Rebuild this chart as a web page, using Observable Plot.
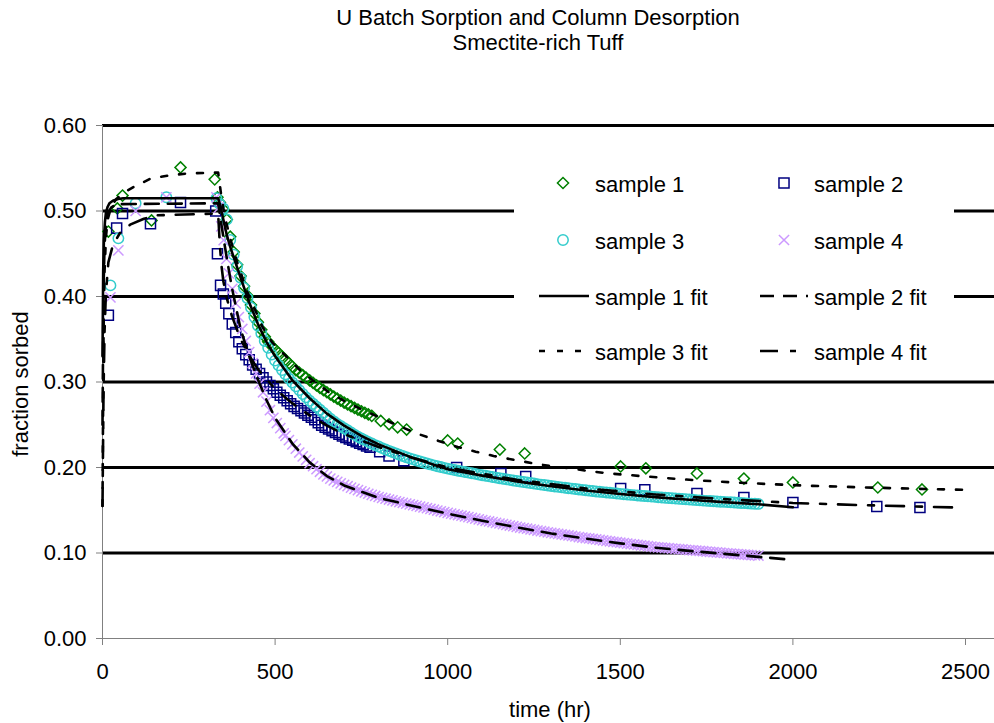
<!DOCTYPE html>
<html>
<head>
<meta charset="utf-8">
<script src="https://cdn.jsdelivr.net/npm/d3@7"></script>
<script src="https://cdn.jsdelivr.net/npm/@observablehq/plot@0.6"></script>
<style>
  html, body { margin: 0; padding: 0; background: #fff; overflow: hidden; }
  #wrap { position: relative; width: 994px; height: 723px; font-family: Arial, "Liberation Sans", sans-serif; color: #000; }
  #wrap svg { position: absolute; left: 0; top: 0; }
  .txt { position: absolute; font-size: 22px; line-height: 25px; white-space: nowrap; }
  .ctr { text-align: center; }
</style>
</head>
<body>
<div id="wrap"></div>
<script>
// ---------------- data (time in hr, fraction sorbed) ----------------
const titleLines = ["U Batch Sorption and Column Desorption", "Smectite-rich Tuff"];
const xLabel = "time (hr)";
const yLabel = "fraction sorbed";
const xTicks = [0, 500, 1000, 1500, 2000, 2500];
const yTicks = [0, 0.1, 0.2, 0.3, 0.4, 0.5, 0.6];
const gridValues = [0.1, 0.2, 0.3, 0.4, 0.5, 0.6];

const seriesNames = ["sample 1", "sample 2", "sample 3", "sample 4"];
const fitNames = ["sample 1 fit", "sample 2 fit", "sample 3 fit", "sample 4 fit"];

// sample 1 (green diamonds)
const sample1 = [
  [17,0.476],[43,0.503],[58,0.518],[142,0.489],[226,0.551],[325,0.537],[333,0.516],
  [340,0.510],[350,0.502],[360,0.490],[370,0.470],[380,0.452],[390,0.437],[400,0.424],
  [410,0.412],[420,0.401],[430,0.390],[440,0.380],[450,0.370],[460,0.361],[470,0.353],
  [480,0.347],[490,0.342],[500,0.338],[510,0.334],[520,0.330],[530,0.326],[540,0.322],
  [550,0.318],[560,0.314],[570,0.311],[580,0.308],[590,0.305],[600,0.302],[610,0.299],
  [620,0.296],[630,0.293],[640,0.2905],[650,0.288],[660,0.2855],[670,0.283],[680,0.2806],
  [690,0.2783],[700,0.276],[710,0.2738],[720,0.2717],[730,0.2697],[740,0.2677],[750,0.2658],
  [760,0.2640],[770,0.2622],[780,0.2604],
  [806,0.2545],[830,0.2505],[855,0.2470],[881,0.2444],[1000,0.2316],[1029,0.228],
  [1151,0.221],[1223,0.2164],[1501,0.2012],[1574,0.199],[1722,0.193],[1858,0.187],
  [2000,0.1825],[2246,0.1766],[2374,0.1743]
];

// sample 2 (navy squares)
const sample2 = [
  [17,0.378],[41,0.48],[58,0.497],[139,0.485],[226,0.51],[328,0.5],
  [333,0.45],[342,0.413],[350,0.403],[357,0.392],[366,0.38],[376,0.368],[386,0.358],
  [395,0.347],[405,0.339],[415,0.332],[425,0.326],[435,0.32],[445,0.315],[455,0.31],
  [465,0.305],[475,0.3],[485,0.296],[495,0.292],[505,0.288],[515,0.2845],[525,0.2815],
  [535,0.278],[545,0.2745],[555,0.2715],[565,0.269],[575,0.2663],[585,0.2637],[595,0.261],
  [605,0.2587],[615,0.2558],[625,0.2525],[635,0.2495],[645,0.247],[655,0.245],[665,0.243],
  [675,0.241],[685,0.239],[695,0.237],[705,0.235],[715,0.2335],[725,0.2318],[735,0.2302],
  [745,0.2285],[755,0.2268],[765,0.2252],[775,0.2237],
  [803,0.2185],[830,0.2135],[873,0.208],[1026,0.2],[1154,0.193],[1226,0.1895],
  [1501,0.1754],[1571,0.174],[1722,0.1696],[1858,0.165],[2000,0.159],[2243,0.1544],
  [2368,0.1532]
];

// sample 3 (cyan circles)
const sample3 = [
  [23,0.413],[46,0.468],[96,0.509],[185,0.516],[330,0.515],
  [340,0.508],[350,0.503],[360,0.490],[370,0.466],[380,0.449],[390,0.435],[400,0.422],
  [410,0.410],[420,0.398],[430,0.387],[440,0.376],[450,0.366],[460,0.357],[470,0.348],
  [480,0.340],[490,0.332],[500,0.325],[510,0.3195],[520,0.314],[530,0.309],[540,0.304],
  [550,0.2995],[560,0.295],[570,0.2905],[580,0.286],[590,0.282],[600,0.278],[610,0.2745],
  [620,0.271],[630,0.2675],[640,0.264],[650,0.2605],[660,0.257],[670,0.254],[680,0.251],
  [690,0.2485],[700,0.246],[710,0.2435],[720,0.241],[730,0.2385],[740,0.236],[750,0.234],
  [760,0.232],[770,0.230],[780,0.228],[790,0.2262],[800,0.2245],[810,0.2227],[820,0.221],
  [830,0.2195],[840,0.218],[850,0.2165],[860,0.215],[870,0.2135],[880,0.212],[890,0.2107],
  [900,0.2095],[910,0.2082],[920,0.207],[930,0.2058],[940,0.2047],[950,0.2036],[960,0.2025],
  [970,0.2015],[980,0.2005],[990,0.1996],[1000,0.1987],[1010,0.1978],[1020,0.197],
  [1030,0.1962],[1040,0.1955],[1050,0.1947],[1060,0.194],[1070,0.1932],[1080,0.1925],
  [1090,0.1917],[1100,0.191],[1110,0.1903],[1120,0.1896],[1130,0.1889],[1140,0.1882],
  [1150,0.1875],[1160,0.1868],[1170,0.1861],[1180,0.1855],[1190,0.1848],[1200,0.1842],
  [1210,0.1836],[1220,0.183],[1230,0.1824],[1240,0.1818],[1250,0.1812],[1260,0.1806],
  [1270,0.18],[1280,0.1795],[1290,0.1789],[1300,0.1784],[1310,0.1778],[1320,0.1773],
  [1330,0.1768],[1340,0.1763],[1350,0.1758],[1360,0.1753],[1370,0.1748],[1380,0.1743],
  [1390,0.1738],[1400,0.1734],[1410,0.1729],[1420,0.1725],[1430,0.172],[1440,0.1716],
  [1450,0.1712],[1460,0.1708],[1470,0.1704],[1480,0.17],[1490,0.1696],[1500,0.1692],
  [1510,0.1688],[1520,0.1684],[1530,0.168],[1540,0.1677],[1550,0.1673],[1560,0.167],
  [1570,0.1666],[1580,0.1663],[1590,0.1659],[1600,0.1656],[1610,0.1652],[1620,0.1649],
  [1630,0.1646],[1640,0.1643],[1650,0.164],[1660,0.1637],[1670,0.1634],[1680,0.1631],
  [1690,0.1628],[1700,0.1625],[1710,0.1622],[1720,0.1619],[1730,0.1616],[1740,0.1613],
  [1750,0.161],[1760,0.1608],[1770,0.1605],[1780,0.1603],[1790,0.16],[1800,0.1598],
  [1810,0.1595],[1820,0.1593],[1830,0.159],[1840,0.1588],[1850,0.1585],[1860,0.1583],
  [1870,0.158],[1880,0.1578],[1890,0.1576],[1900,0.1574]
];

// sample 4 (lavender crosses)
const sample4 = [
  [23,0.399],[46,0.454],[96,0.5],[185,0.516],[330,0.516],
  [337,0.504],[344,0.482],[351,0.466],[359,0.444],[366,0.427],[376,0.409],[386,0.392],
  [395,0.376],[405,0.362],[415,0.348],[425,0.335],[435,0.322],[445,0.31],[455,0.298],
  [465,0.288],[475,0.277],[485,0.267],[495,0.258],[505,0.252],[515,0.246],[525,0.24],
  [530,0.237],[540,0.232],[550,0.227],[560,0.222],[570,0.2175],[580,0.213],[590,0.209],
  [600,0.205],[610,0.2015],[620,0.198],[630,0.195],[640,0.192],[650,0.1895],[660,0.187],
  [670,0.185],[680,0.1832],[690,0.1814],[700,0.1797],[710,0.1781],[720,0.1765],[730,0.175],
  [740,0.1735],[750,0.1721],[760,0.1707],[770,0.1693],[780,0.168],[790,0.1667],[800,0.1655],
  [810,0.1645],[820,0.1635],[830,0.1625],[840,0.1615],[850,0.1605],[860,0.1596],[870,0.1587],
  [880,0.1578],[890,0.1569],[900,0.156],[910,0.1551],[920,0.1542],[930,0.1533],[940,0.1524],
  [950,0.1515],[960,0.1506],[970,0.1497],[980,0.1488],[990,0.1479],[1000,0.147],
  [1010,0.1461],[1020,0.1453],[1030,0.1444],[1040,0.1436],[1050,0.1427],[1060,0.1419],
  [1070,0.141],[1080,0.1402],[1090,0.1393],[1100,0.1385],[1110,0.1377],[1120,0.1369],
  [1130,0.1361],[1140,0.1353],[1150,0.1345],[1160,0.1337],[1170,0.1329],[1180,0.1321],
  [1190,0.1313],[1200,0.1305],[1210,0.1298],[1220,0.1291],[1230,0.1284],[1240,0.1277],
  [1250,0.127],[1260,0.1263],[1270,0.1256],[1280,0.1249],[1290,0.1242],[1300,0.1235],
  [1310,0.1229],[1320,0.1223],[1330,0.1217],[1340,0.1211],[1350,0.1205],[1360,0.1199],
  [1370,0.1193],[1380,0.1187],[1390,0.1181],[1400,0.1175],[1410,0.117],[1420,0.1164],
  [1430,0.1159],[1440,0.1153],[1450,0.1148],[1460,0.1142],[1470,0.1137],[1480,0.1131],
  [1490,0.1126],[1500,0.112],[1510,0.1115],[1520,0.111],[1530,0.1105],[1540,0.11],
  [1550,0.1095],[1560,0.109],[1570,0.1085],[1580,0.108],[1590,0.1075],[1600,0.107],
  [1610,0.1066],[1620,0.1063],[1630,0.1059],[1640,0.1056],[1650,0.1052],[1660,0.1049],
  [1670,0.1045],[1680,0.1042],[1690,0.1038],[1700,0.1035],[1710,0.1031],[1720,0.1028],
  [1730,0.1024],[1740,0.1021],[1750,0.1017],[1760,0.1014],[1770,0.101],[1780,0.1007],
  [1790,0.1003],[1800,0.1],[1810,0.0997],[1820,0.0994],[1830,0.0991],[1840,0.0988],
  [1850,0.0985],[1860,0.0982],[1870,0.0979],[1880,0.0976],[1890,0.0973],[1900,0.097]
];

// fit curves as drawn (solid, long dash, short dash, dash-dot)
const fit1 = [
  [0,0.33],[2,0.43],[4,0.465],[7,0.487],[10,0.498],[15,0.505],[20,0.509],[30,0.512],
  [45,0.514],[60,0.515],[335,0.515],[342,0.505],[350,0.49],[360,0.472],[370,0.458],
  [380,0.446],[400,0.422],[425,0.393],[450,0.368],[475,0.347],[500,0.33],[550,0.302],
  [600,0.281],[650,0.263],[700,0.249],[750,0.237],[800,0.227],[900,0.211],[1000,0.198],
  [1100,0.1905],[1200,0.1838],[1300,0.178],[1400,0.1731],[1500,0.169],[1600,0.1654],
  [1700,0.1622],[1800,0.1595],[1900,0.157],[2000,0.1535]
];
const fit2 = [
  [0,0.25],[3,0.41],[6,0.46],[10,0.485],[15,0.497],[25,0.504],[40,0.508],[335,0.509],
  [342,0.49],[350,0.47],[360,0.445],[375,0.41],[400,0.362],[425,0.33],[450,0.303],
  [475,0.279],[500,0.258],[550,0.228],[600,0.206],[650,0.19],[700,0.179],[800,0.1645],
  [900,0.155],[1000,0.146],[1100,0.1378],[1200,0.13],[1300,0.1228],[1400,0.1168],
  [1500,0.1113],[1600,0.1063],[1700,0.1025],[1800,0.099],[1900,0.0955],[2000,0.092]
];
const fit3 = [
  [0,0.155],[3,0.36],[6,0.43],[10,0.47],[15,0.49],[25,0.505],[40,0.514],[60,0.521],
  [90,0.528],[140,0.538],[200,0.542],[250,0.544],[335,0.545],[345,0.515],[355,0.492],
  [370,0.468],[390,0.44],[420,0.405],[464,0.364],[492,0.346],[530,0.331],[574,0.313],
  [617,0.2995],[661,0.2865],[700,0.278],[750,0.268],[800,0.259],[850,0.25],[916,0.239],
  [974,0.231],[1029,0.224],[1081,0.2185],[1133,0.2135],[1191,0.209],[1246,0.205],
  [1299,0.2015],[1357,0.199],[1409,0.1958],[1463,0.1932],[1516,0.1915],[1568,0.1897],
  [1623,0.188],[1675,0.1863],[1733,0.1848],[1786,0.1835],[1841,0.1823],[1899,0.1812],
  [2058,0.1785],[2200,0.1768],[2350,0.1752],[2490,0.174]
];
const fit4 = [
  [0,0.155],[3,0.29],[6,0.36],[10,0.405],[17,0.44],[30,0.46],[50,0.474],[80,0.484],
  [120,0.491],[160,0.495],[335,0.497],[340,0.46],[345,0.435],[350,0.418],[360,0.398],
  [375,0.377],[400,0.35],[425,0.331],[450,0.315],[500,0.292],[550,0.275],[600,0.261],
  [650,0.249],[700,0.239],[800,0.224],[900,0.211],[1000,0.2],[1200,0.1855],[1400,0.1755],
  [1600,0.1685],[1800,0.163],[2000,0.1585],[2200,0.156],[2350,0.1545],[2490,0.153]
];

// ---------------- styles ----------------
const colors = ["#008000", "#000080", "#33CCCC", "#CC99FF"];
const symbols = ["diamond2", "square2", "circle", "times"];
const d3Symbols = [d3.symbolDiamond2, d3.symbolSquare2, d3.symbolCircle, d3.symbolTimes];
const radii = [5, 6.4, 5.2, 4.7];
const dashes = [null, "14,9", "6,12", "18,12,6,12"];
const fitWidth = 2.6;

const samples = [sample1, sample2, sample3, sample4];
const fits = [fit1, fit2, fit3, fit4];

const X = d => d[0], Y = d => d[1];

const marks = [
  Plot.ruleY(gridValues, {stroke: "#000", strokeWidth: 3}),
  Plot.ruleX([0], {stroke: "#808080", strokeWidth: 1}),
  Plot.ruleY([0], {stroke: "#808080", strokeWidth: 1}),
  Plot.axisY({ticks: yTicks, tickFormat: d3.format(".2f"), tickSize: 6, tickPadding: 10,
              label: null, stroke: "#808080", fill: "#000"}),
  Plot.axisX({ticks: xTicks, tickFormat: d3.format("d"), tickSize: 7, tickPadding: 18,
              label: null, stroke: "#808080", fill: "#000"})
];
samples.forEach((s, i) => {
  marks.push(Plot.dot(s, {x: X, y: Y, symbol: symbols[i], r: radii[i], fill: "none",
                          stroke: colors[i], strokeWidth: 1.5}));
});
fits.forEach((f, i) => {
  const opt = {x: X, y: Y, stroke: "#000", strokeWidth: fitWidth};
  if (dashes[i]) opt.strokeDasharray = dashes[i];
  marks.push(Plot.line(f, opt));
});

const chart = Plot.plot({
  width: 994,
  height: 723,
  marginLeft: 102,
  marginRight: 0,
  marginTop: 125,
  marginBottom: 85,
  x: {domain: [0, 2584]},
  y: {domain: [0, 0.6]},
  style: {fontFamily: "Arial, 'Liberation Sans', sans-serif", fontSize: "22px", color: "#000", background: "#fff"},
  marks
});

const wrap = document.getElementById("wrap");
wrap.appendChild(chart);

function addText(text, styles, cls = "txt") {
  const el = document.createElement("div");
  el.className = cls;
  el.textContent = text;
  Object.assign(el.style, styles);
  wrap.appendChild(el);
  return el;
}

// titles and axis labels
addText(titleLines[0], {left: "238px", width: "600px", top: "5px"}, "txt ctr");
addText(titleLines[1], {left: "238px", width: "600px", top: "30px"}, "txt ctr");
addText(xLabel, {left: "350px", width: "400px", top: "697px"}, "txt ctr");
addText(yLabel, {left: "20px", top: "384px", transform: "translate(-50%,-50%) rotate(-90deg)"});

// legend (white box over the gridlines)
const box = document.createElement("div");
Object.assign(box.style, {position: "absolute", left: "514px", top: "156px", width: "440px", height: "220px", background: "#fff"});
wrap.appendChild(box);

const rowY = [183, 240, 296, 351];
const colSym = [563, 784];
const colLine = [[539, 589], [760, 808]];
const colText = [595, 814];
const NS = "http://www.w3.org/2000/svg";

function legendSvg(left, top, w, h) {
  const s = document.createElementNS(NS, "svg");
  s.setAttribute("width", w); s.setAttribute("height", h);
  Object.assign(s.style, {position: "absolute", left: left + "px", top: top + "px", overflow: "visible"});
  wrap.appendChild(s);
  return s;
}

seriesNames.forEach((name, i) => {
  const row = Math.floor(i / 2), col = i % 2;
  const cy = rowY[row], cx = colSym[col];
  const s = legendSvg(cx - 10, cy - 10, 20, 20);
  const p = document.createElementNS(NS, "path");
  p.setAttribute("d", d3.symbol(d3Symbols[i], Math.PI * radii[i] * radii[i])());
  p.setAttribute("transform", "translate(10,10)");
  p.setAttribute("fill", "none");
  p.setAttribute("stroke", colors[i]);
  p.setAttribute("stroke-width", 1.5);
  s.appendChild(p);
  addText(name, {left: colText[col] + "px", top: (cy - 11) + "px"});
});

fitNames.forEach((name, i) => {
  const row = 2 + Math.floor(i / 2), col = i % 2;
  const cy = rowY[row];
  const [x0, x1] = colLine[col];
  const s = legendSvg(x0, cy - 5, x1 - x0, 10);
  const l = document.createElementNS(NS, "line");
  l.setAttribute("x1", 0); l.setAttribute("x2", x1 - x0);
  l.setAttribute("y1", 5); l.setAttribute("y2", 5);
  l.setAttribute("stroke", "#000");
  l.setAttribute("stroke-width", fitWidth);
  if (dashes[i]) l.setAttribute("stroke-dasharray", dashes[i]);
  s.appendChild(l);
  addText(name, {left: colText[col] + "px", top: (cy - 11) + "px"});
});
</script>
</body>
</html>
